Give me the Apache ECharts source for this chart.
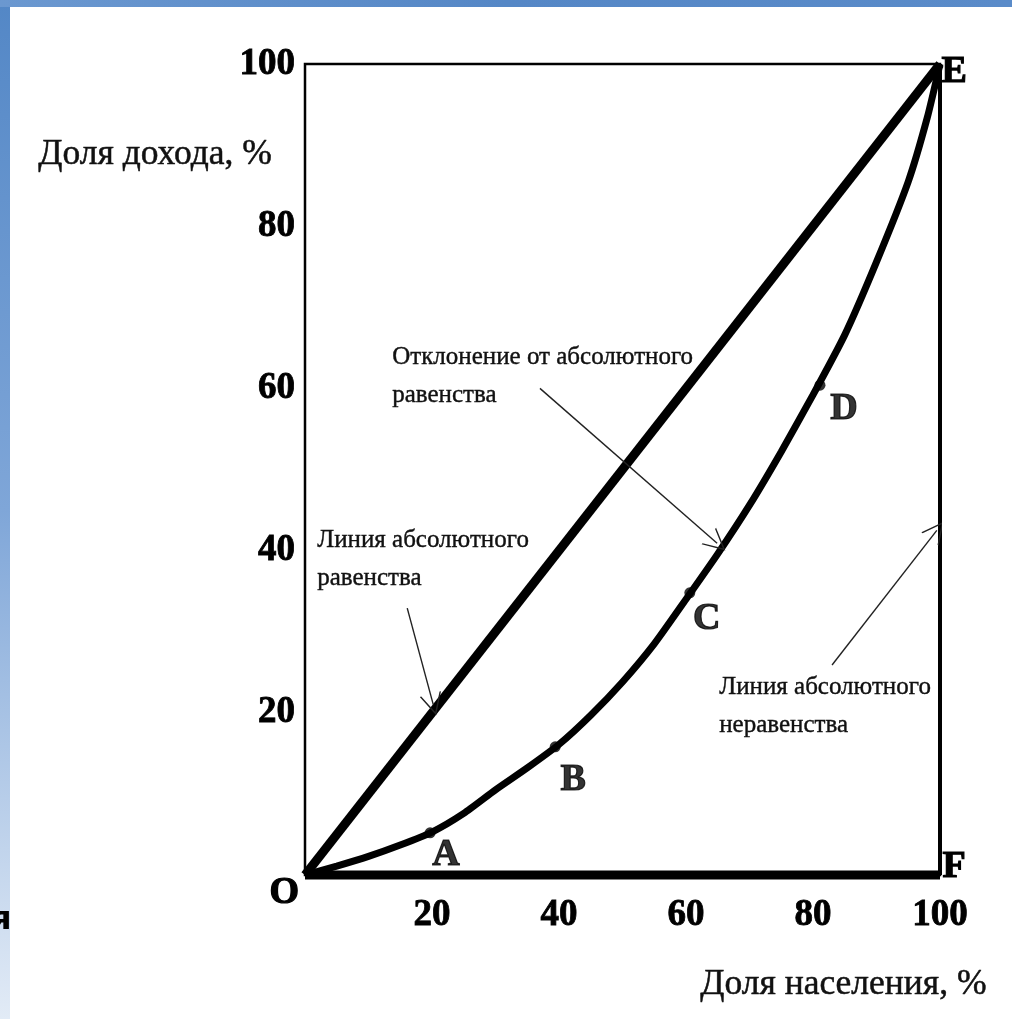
<!DOCTYPE html>
<html><head><meta charset="utf-8">
<script src="https://cdn.jsdelivr.net/npm/echarts@6/dist/echarts.min.js"></script>
<style>html,body{margin:0;padding:0;background:#fff}#c{width:1012px;height:1019px}</style>
</head><body><div id="c"></div>
<script>
// Lorenz curve
const curveX = [0, 5, 10, 15, 20, 25, 30, 35, 40, 45, 50, 55, 60, 65, 70, 75, 80, 85, 90, 95, 98, 100];
const curveY = [0, 1.1, 2.3, 3.7, 5.3, 7.6, 10.5, 13.2, 16.1, 19.7, 23.8, 28.5, 34.0, 39.6, 45.6, 52.2, 59.2, 66.6, 75.6, 85.5, 93.4, 100];
// marked points
const pointNames = ['A', 'B', 'C', 'D'];
const pointX = [19.7, 39.4, 60.6, 81.1];
const pointY = [5.2, 15.8, 34.8, 60.4];
// equality line
const equalX = [0, 100];
const equalY = [0, 100];
// absolute inequality line (O -> F -> E)
const ineqBottomX = [0, 100];
const ineqBottomY = [0, 0];
const ineqRightX = [100, 100];
const ineqRightY = [0, 100];
// ticks
const tickValues = [20, 40, 60, 80, 100];
// annotation arrows [fromX, fromY, toX, toY]
const arrowEqual = [16.1, 32.9, 20.2, 21.0];
const arrowDev = [37.0, 60.0, 64.9, 40.9];
const arrowIneq = [83.0, 25.9, 99.5, 42.5];

const zip = (xs, ys) => xs.map((x, i) => [x, ys[i]]);
const serif = '"Liberation Serif", "DejaVu Serif", serif';
const chevron = 'path://M0,24 L10,0 L20,24 L18.6,24 L10,3.6 L1.4,24 Z';

const chart = echarts.init(document.getElementById('c'));
const arrowSeries = (a) => ({
  type: 'lines', coordinateSystem: 'cartesian2d', silent: true, z: 5,
  symbol: ['none', chevron], symbolSize: [15, 22],
  lineStyle: { color: '#222', width: 1.4, opacity: 1 },
  data: [{ coords: [[a[0], a[1]], [a[2], a[3]]] }]
});
const bigLetter = (t, left, top) => ({ type: 'text', left, top,
  style: { text: t, font: 'bold 38px ' + serif, fill: '#000', stroke: '#000', lineWidth: 1.2 } });
const note = (t, left, top) => ({ type: 'text', left, top,
  style: { text: t, font: '25px ' + serif, fill: '#111', stroke: '#111', lineWidth: 0.4, lineHeight: 38 } });

chart.setOption({
  backgroundColor: '#ffffff',
  animation: false,
  grid: { left: 305, right: 72, top: 64, bottom: 144, show: true, borderColor: '#000', borderWidth: 2.5, backgroundColor: 'transparent' },
  xAxis: {
    type: 'value', min: 0, max: 100, interval: 20,
    axisLine: { show: false }, axisTick: { show: false }, splitLine: { show: false },
    axisLabel: { margin: 22, color: '#000', fontFamily: serif, fontWeight: 'bold', fontSize: 37,
      textBorderColor: '#000', textBorderWidth: 0.8,
      formatter: v => tickValues.includes(v) ? String(v) : '' }
  },
  yAxis: {
    type: 'value', min: 0, max: 100, interval: 20,
    axisLine: { show: false }, axisTick: { show: false }, splitLine: { show: false },
    axisLabel: { margin: 10, color: '#000', fontFamily: serif, fontWeight: 'bold', fontSize: 37,
      textBorderColor: '#000', textBorderWidth: 0.8,
      formatter: v => tickValues.includes(v) ? String(v) : '' }
  },
  graphic: [
    { type: 'rect', shape: { x: 0, y: 0, width: 10, height: 1019 }, z: 100,
      style: { fill: new echarts.graphic.LinearGradient(0, 0, 0, 1, [
        { offset: 0, color: '#5387c6' }, { offset: 0.5, color: '#7fa6d8' }, { offset: 1, color: '#e2ebf6' }]) } },
    { type: 'rect', shape: { x: 0, y: 0, width: 1012, height: 7 }, z: 100,
      style: { fill: new echarts.graphic.LinearGradient(0, 0, 1, 0, [
        { offset: 0, color: '#6b98d0' }, { offset: 0.5, color: '#5587c6' }, { offset: 1, color: '#5a8bc9' }]) } },
    { type: 'text', left: -9, top: 905, z: 101, style: { text: 'я', font: 'bold 32px "DejaVu Sans"', fill: '#000' } },
    { type: 'text', left: 38, top: 136, style: { text: 'Доля дохода, %', font: '35.5px ' + serif, fill: '#111', stroke: '#111', lineWidth: 0.5 } },
    { type: 'text', left: 700, top: 966, style: { text: 'Доля населения, %', font: '35.5px ' + serif, fill: '#111', stroke: '#111', lineWidth: 0.5 } },
    note('Отклонение от абсолютного\nравенства', 392, 338),
    note('Линия абсолютного\nравенства', 317, 521),
    note('Линия абсолютного\nнеравенства', 719, 668),
    bigLetter('O', 269, 874),
    bigLetter('E', 941, 53),
    bigLetter('F', 942, 848)
  ],
  series: [
    { type: 'line', data: zip(curveX, curveY), smooth: 0.2, showSymbol: false, clip: false, z: 3,
      lineStyle: { color: '#000', width: 7 } },
    { type: 'line', data: zip(equalX, equalY), showSymbol: false, clip: false, z: 3,
      lineStyle: { color: '#000', width: 9 } },
    { type: 'line', data: zip(ineqBottomX, ineqBottomY), showSymbol: false, clip: false, z: 3,
      lineStyle: { color: '#000', width: 9 } },
    { type: 'line', data: zip(ineqRightX, ineqRightY), showSymbol: false, clip: false, z: 3,
      lineStyle: { color: '#000', width: 4 } },
    { type: 'scatter', z: 4, symbol: 'circle', symbolSize: 11, itemStyle: { color: '#000' },
      data: pointNames.map((n, i) => ({ name: n, value: [pointX[i], pointY[i]] })),
      label: { show: true, position: 'inside', formatter: p => p.name, color: '#000',
        fontFamily: serif, fontWeight: 'bold', fontSize: 38,
        textBorderColor: '#000', textBorderWidth: 1.2 },
      labelLayout: function (p) {
        const offs = { A: [16, 22], B: [18, 33], C: [17, 26], D: [24, 24] }[p.text] || [0, 0];
        return { x: p.rect.x + p.rect.width / 2 + offs[0], y: p.rect.y + p.rect.height / 2 + offs[1], align: 'center', verticalAlign: 'middle' };
      } },
    arrowSeries(arrowEqual),
    arrowSeries(arrowDev),
    arrowSeries(arrowIneq)
  ]
});
</script></body></html>
